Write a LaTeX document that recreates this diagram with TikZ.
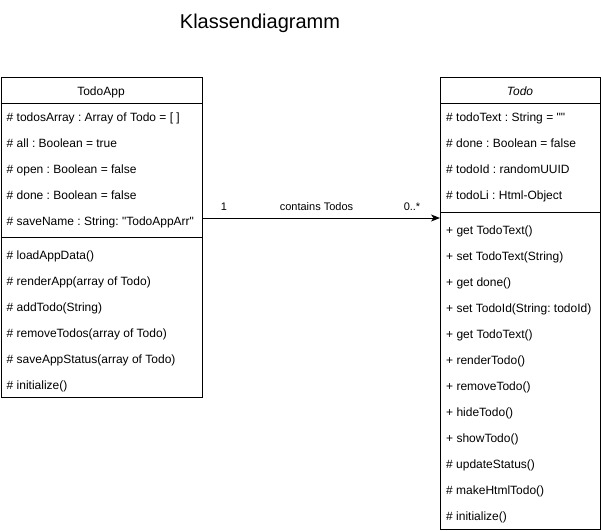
\documentclass[tikz,border=0pt]{standalone}
\usepackage{fontspec}
\setmainfont{Liberation Sans}[Ligatures=TeXOff]
\usetikzlibrary{arrows.meta}
\frenchspacing
\begin{document}
\begin{tikzpicture}[x=1pt,y=-1pt,
  classbox/.style={draw, line width=1pt, inner sep=0pt, anchor=north west},
  rowtext/.style={font=\fontsize{12}{14}\selectfont, inner sep=0pt, anchor=base west},
  headtext/.style={font=\fontsize{12}{14}\selectfont, inner sep=0pt, anchor=base},
  edgelabel/.style={font=\fontsize{11}{13}\selectfont, inner sep=0pt},
  sepline/.style={line width=1pt},
  assoc/.style={line width=1pt, -{Stealth[length=9pt,width=7pt,inset=2.5pt]}}]
\useasboundingbox (0,0) rectangle (601,530);
% title
\node[font=\fontsize{20}{24}\selectfont, inner sep=0pt, anchor=base] (title) at (260,28) {Klassendiagramm};
% TodoApp class
\node[classbox, minimum width=201.5pt, minimum height=320pt] (app) at (0.5,77) {};
\node[headtext] (apphead) at (101,95) {TodoApp};
\draw[sepline] (app.north west) ++(0,26) coordinate (appl) -- (appl -| app.east);
\draw[sepline] (app.north west) ++(0,160) coordinate (apps) -- (apps -| app.east);
\foreach \t [count=\i] in {{\# todosArray : Array of Todo = [ ]},{\# all : Boolean = true},{\# open : Boolean = false},{\# done : Boolean = false},{\# saveName : String: "TodoAppArr"}}
  \node[rowtext] (aa\i) at (6.5,95+26*\i) {\t};
\foreach \t [count=\i] in {{\# loadAppData()},{\# renderApp(array of Todo)},{\# addTodo(String)},{\# removeTodos(array of Todo)},{\# saveAppStatus(array of Todo)},{\# initialize()}}
  \node[rowtext] (am\i) at (6.5,233+26*\i) {\t};
% Todo class
\node[classbox, minimum width=160pt, minimum height=452pt] (todo) at (440,77) {};
\node[headtext, font=\fontsize{12}{14}\selectfont\itshape] (todohead) at (520,95) {Todo};
\draw[sepline] (todo.north west) ++(0,26) coordinate (tdl) -- (tdl -| todo.east);
\draw[sepline] (todo.north west) ++(0,135) coordinate (tds) -- (tds -| todo.east);
\foreach \t [count=\i] in {{\# todoText : String = ""},{\# done : Boolean = false},{\# todoId : randomUUID},{\# todoLi : Html-Object}}
  \node[rowtext] (ta\i) at (446,95+26*\i) {\t};
\foreach \t [count=\i] in {{+ get TodoText()},{+ set TodoText(String)},{+ get done()},{+ set TodoId(String: todoId)},{+ get TodoText()},{+ renderTodo()},{+ removeTodo()},{+ hideTodo()},{+ showTodo()},{\# updateStatus()},{\# makeHtmlTodo()},{\# initialize()}}
  \node[rowtext] (tm\i) at (446,208+26*\i) {\t};
% association
\coordinate (ay) at (0,218);
\draw[assoc] (app.east |- ay) -- (todo.west |- ay);
\node[edgelabel] (m1) at (224,207) {1};
\node[edgelabel] (ml) at (316.5,207) {contains Todos};
\node[edgelabel] (m2) at (412,207) {0..*};
\end{tikzpicture}
\end{document}
